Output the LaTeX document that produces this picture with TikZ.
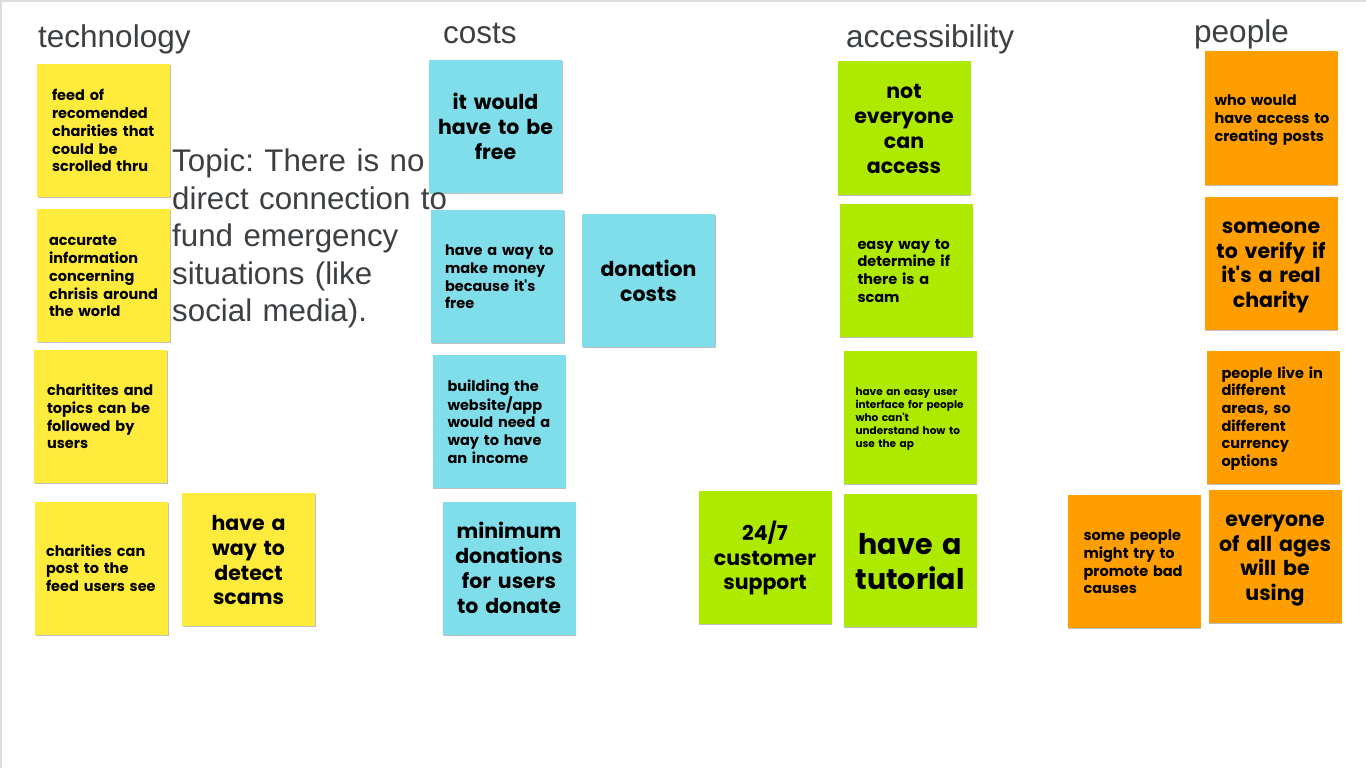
\documentclass[tikz,border=0pt]{standalone}
\usepackage{fontspec}
\setmainfont{Liberation Sans}
\newfontfamily\notefont{Poppins}
\usetikzlibrary{shadows}
\definecolor{headgray}{RGB}{60,64,67}
\definecolor{framegray}{RGB}{218,220,224}
\definecolor{noteyellow}{RGB}{255,235,59}
\definecolor{notecyan}{RGB}{128,222,234}
\definecolor{notegreen}{RGB}{174,234,0}
\definecolor{noteorange}{RGB}{255,158,0}
% invisible rules that give every note the same line box at top and bottom
\newcommand\topline{\rule{0pt}{0.83\baselineskip}}
\newcommand\bottomline{\rule[-0.17\baselineskip]{0pt}{0pt}}
\tikzset{
  note/.style={fill=#1, minimum width=133pt, minimum height=133pt, inner sep=0pt,
    drop shadow={shadow xshift=0.6pt, shadow yshift=-1.4pt, opacity=0.25, fill=black},
    text=black, execute at begin node={\topline}, execute at end node={\bottomline}},
  padl/.style={inner xsep=#1, text width=133pt-2*#1, align=left},
  mid/.style={text width=125pt, align=center},
  small/.style={font=\notefont\bfseries\fontsize{14.5}{17.7}\selectfont},
  tiny/.style={font=\notefont\bfseries\fontsize{10.5}{13}\selectfont},
  medium/.style={font=\notefont\bfseries\fontsize{20.5}{24.8}\selectfont},
  large/.style={font=\notefont\bfseries\fontsize{28.5}{35}\selectfont},
  heading/.style={anchor=base west, inner sep=0pt, text=headgray, font=\fontsize{31.5}{38}\selectfont},
}
\begin{document}
\frenchspacing
\hyphenpenalty=10000
\exhyphenpenalty=10000
\begin{tikzpicture}[x=1pt, y=-1pt]
\useasboundingbox (0,0) rectangle (1366,768);
\fill[white] (0,0) rectangle (1366,768);
% board frame
\fill[framegray] (0,0) rectangle (1366,2);
\fill[framegray] (0,0) rectangle (1.5,768);

% column headings
\node[heading] (hTech) at (38,48) {technology};
\node[heading] (hCost) at (443,43.5) {costs};
\node[heading] (hAcc) at (846,48) {accessibility};
\node[heading] (hPeople) at (1194,43) {people};

% technology
\node[note=noteyellow, small, padl=15pt] (y1) at (103.5,130.5) {feed of\\recomended\\charities~that\\could~be\\scrolled~thru};
\node[note=noteyellow, small, padl=12pt] (y2) at (103.5,275.5) {accurate\\information\\concerning\\chrisis~around\\the~world};
\node[note=noteyellow, small, padl=13pt] (y3) at (100.5,416.5) {charitites~and\\topics~can~be\\followed~by\\users};
\node[note=noteyellow, small, padl=11pt] (y4) at (101.5,568) {charities~can\\post~to~the\\feed~users~see};
\node[note=noteyellow, medium, mid] (y5) at (248.5,559.5) {have a\\way to\\detect\\scams};

% costs
\node[note=notecyan, medium, mid] (c1) at (495.5,126.5) {it would\\have to be\\free};
\node[note=notecyan, small, padl=14pt] (c2) at (497.5,276.5) {have~a~way~to\\make~money\\because~it's\\free};
\node[note=notecyan, medium, mid] (c3) at (648.5,280.5) {donation\\costs};
\node[note=notecyan, small, padl=15pt] (c4) at (499,421.5) {building~the\\website/app\\would~need~a\\way~to~have\\an~income};
\node[note=notecyan, medium, mid] (c5) at (509,568) {minimum\\donations\\for users\\to donate};

% accessibility
\node[note=notegreen, medium, mid] (g1) at (904,128) {not\\everyone\\can\\access};
\node[note=notegreen, small, padl=18pt] (g2) at (906,270) {easy~way~to\\determine~if\\there~is~a\\scam};
\node[note=notegreen, tiny, padl=12pt] (g3) at (910,417) {have~an~easy~user\\interface~for~people\\who~can't\\understand~how~to\\use~the~ap};
\node[note=notegreen, large, mid] (g4) at (910,560) {have a\\tutorial};
\node[note=notegreen, medium, mid] (g5) at (765,557.5) {24/7\\customer\\support};

% people
\node[note=noteorange, small, padl=10pt] (o1) at (1271,118) {who~would\\have~access~to\\creating~posts};
\node[note=noteorange, medium, mid] (o2) at (1271,263) {someone\\to verify if\\it's a real\\charity};
\node[note=noteorange, small, padl=15pt] (o3) at (1273,417) {people~live~in\\different\\areas,~so\\different\\currency\\options};
\node[note=noteorange, small, padl=16pt] (o4) at (1134,561.5) {some~people\\might~try~to\\promote~bad\\causes};
\node[note=noteorange, medium, mid] (o5) at (1275,556) {everyone\\of all ages\\will be\\using};

% topic statement
\node[anchor=base west, inner sep=0pt, text width=300pt, align=left, text=headgray,
  font=\fontsize{31.3}{37.6}\selectfont] (topic) at (172,171.5)
  {Topic: There is no\\direct connection to\\fund emergency\\situations (like\\social media).};
\end{tikzpicture}
\end{document}
